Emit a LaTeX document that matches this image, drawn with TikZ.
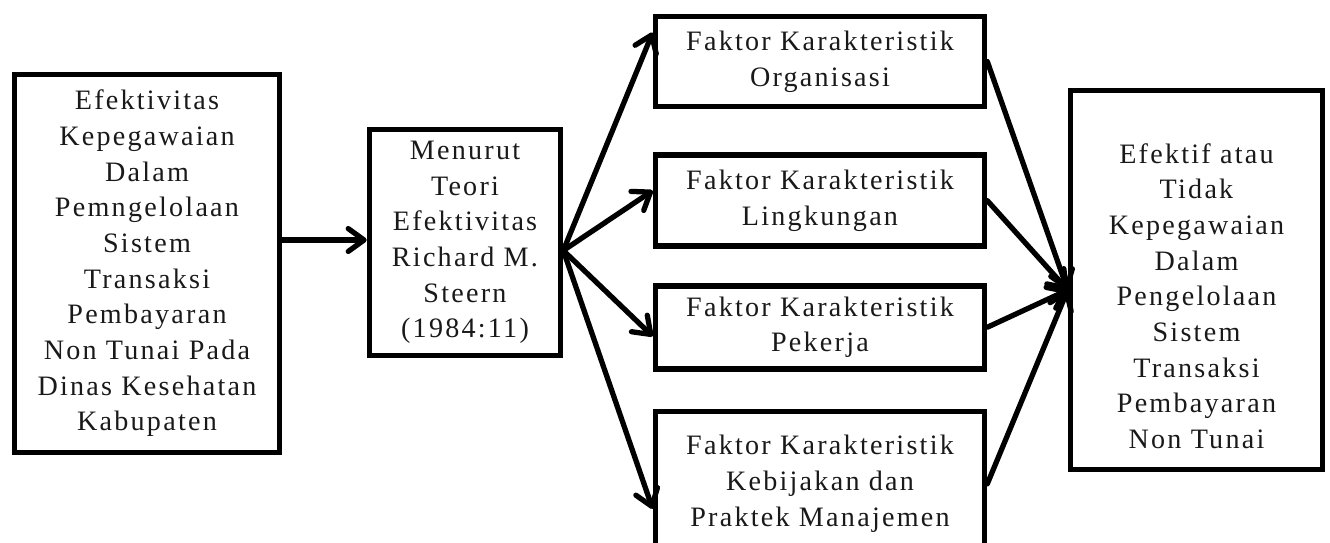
\documentclass[tikz,border=0pt]{standalone}
\usepackage{fontspec}
\setmainfont{Liberation Serif}[LetterSpace=8]
\usepackage{xcolor}
\usetikzlibrary{arrows.meta, positioning}
\tikzstyle{box}   = [rectangle, draw=black, line width=3.2pt, align=center,
                     inner sep=0pt, text=black!90,
                     font=\fontsize{16}{20.3}\selectfont]
\tikzstyle{arrow} = [line width=3pt, line cap=round,
                     -{Straight Barb[length=9pt, width=13pt, line cap=round, line join=round]}]

\begin{document}
\begin{tikzpicture}[node distance=0.8cm]
  \useasboundingbox (0,0) rectangle (26.6,-10.84);

  % Input
  \node[box, minimum width=5.3cm, minimum height=7.56cm] (src) at (2.94,-5.27)
        {Efektivitas\\Kepegawaian\\Dalam\\Pemngelolaan\\Sistem\\Transaksi\\Pembayaran\\Non Tunai Pada\\Dinas Kesehatan\\Kabupaten};

  % Theory
  \node[box, minimum width=3.82cm, minimum height=4.52cm] (teori) at (9.3,-4.85)
        {Menurut\\Teori\\Efektivitas\\Richard M.\\Steern\\(1984:11)};
  \draw[arrow] (src.east |- 0,-4.8) -- (teori.west |- 0,-4.8);

  % Four factors
  \node[box, minimum width=6.58cm, minimum height=1.8cm] (org) at (16.4,-1.23)
        {Faktor Karakteristik\\Organisasi};
  \node[box, minimum width=6.58cm, minimum height=1.82cm, below=0.86cm of org] (ling)
        {Faktor Karakteristik\\Lingkungan};
  \node[box, minimum width=6.58cm, minimum height=1.66cm, below=0.68cm of ling] (kerja)
        {Faktor Karakteristik\\Pekerja};
  \node[box, minimum width=6.58cm, minimum height=2.9cm, below=0.74cm of kerja] (manaj)
        {\rule{0pt}{0.3cm}Faktor Karakteristik\\Kebijakan dan\\Praktek Manajemen};

  \coordinate (fan) at ([yshift=-0.16cm]teori.east);
  \draw[arrow] (fan) -- ([yshift=0.58cm]org.west);
  \draw[arrow] (fan) -- ([yshift=0.2cm]ling.west);
  \draw[arrow] (fan) -- ([yshift=-0.18cm]kerja.west);
  \draw[arrow] (fan) -- ([yshift=-0.5cm]manaj.west);

  % Result
  \node[box, minimum width=5.04cm, minimum height=7.58cm] (hasil) at (23.93,-5.6)
        {\rule{0pt}{1.04cm}Efektif atau\\Tidak\\Kepegawaian\\Dalam\\Pengelolaan\\Sistem\\Transaksi\\Pembayaran\\Non Tunai};

  \coordinate (join) at ([yshift=-0.2cm]hasil.west);
  \draw[arrow] (org.east)   -- (join);
  \draw[arrow] (ling.east)  -- (join);
  \draw[arrow] (kerja.east) -- (join);
  \draw[arrow] (manaj.east) -- (join);

\end{tikzpicture}
\end{document}
